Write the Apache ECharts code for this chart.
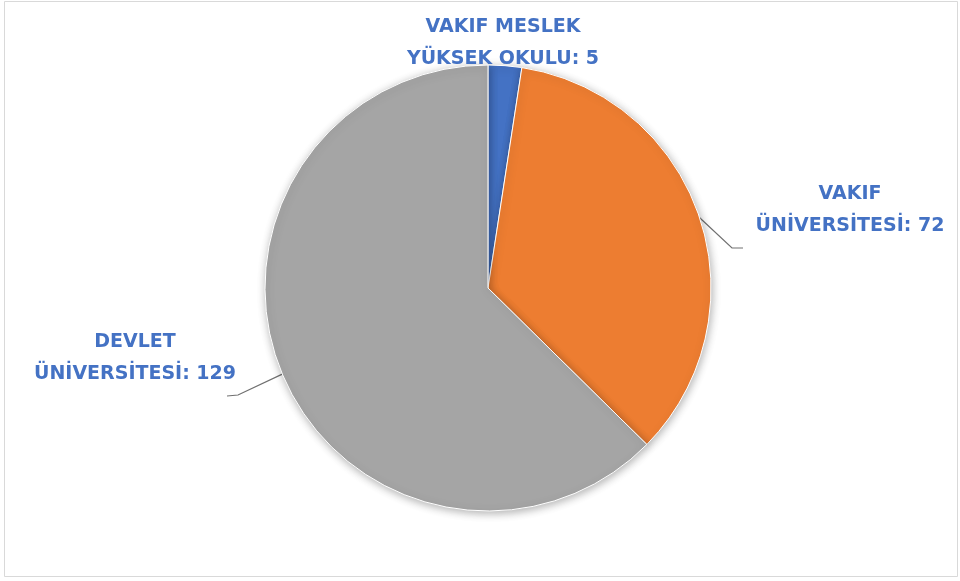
<!DOCTYPE html>
<html>
<head>
<meta charset="utf-8">
<script src="https://cdn.jsdelivr.net/npm/echarts@6/dist/echarts.min.js"></script>
<style>html,body{margin:0;padding:0;background:#fff}#c{width:960px;height:581px}</style>
</head>
<body>
<div id="c"></div>
<script>
var categories = ["VAKIF MESLEK\nYÜKSEK OKULU", "VAKIF\nÜNİVERSİTESİ", "DEVLET\nÜNİVERSİTESİ"];
var values = [5, 72, 129];
var colors = ["#4472C4", "#ED7D31", "#A5A5A5"];

// label placement (style only)
var labelPos = [
  {x: 503, y: 43, line: null},
  {x: 850, y: 210, line: [[732, 248], [743, 248]]},
  {x: 135, y: 358, line: [[238, 395], [227, 396]]}
];

var chart = echarts.init(document.getElementById('c'));
chart.setOption({
  backgroundColor: '#fff',
  animation: false,
  graphic: [{
    type: 'rect', shape: {x: 4.5, y: 1.5, width: 953, height: 575},
    style: {fill: 'none', stroke: '#d9d9d9', lineWidth: 1}, silent: true
  }],
  series: [{
    type: 'pie',
    center: [488, 288],
    radius: 223,
    startAngle: 90,
    clockwise: true,
    itemStyle: {
      borderColor: '#fff', borderWidth: 1,
      shadowBlur: 8, shadowColor: 'rgba(0,0,0,0.3)', shadowOffsetX: 1, shadowOffsetY: 2
    },
    label: {
      show: true,
      position: 'outside',
      formatter: function (p) { return p.name + ': ' + p.value; },
      color: '#4472C4',
      fontFamily: 'DejaVu Sans',
      fontWeight: 'bold',
      fontSize: 19,
      lineHeight: 32,
      align: 'center'
    },
    labelLine: {show: true, lineStyle: {color: '#707070', width: 1.2}},
    labelLayout: function (params) {
      var lp = labelPos[params.dataIndex];
      var res = {x: lp.x, y: lp.y, align: 'center', verticalAlign: 'middle'};
      if (lp.line && params.labelLinePoints) {
        res.labelLinePoints = [params.labelLinePoints[0], lp.line[0], lp.line[1]];
      }
      return res;
    },
    data: values.map(function (v, i) {
      var d = {name: categories[i], value: v, itemStyle: {color: colors[i]}};
      if (i === 0) d.labelLine = {show: false};
      return d;
    })
  }]
});
</script>
</body>
</html>
